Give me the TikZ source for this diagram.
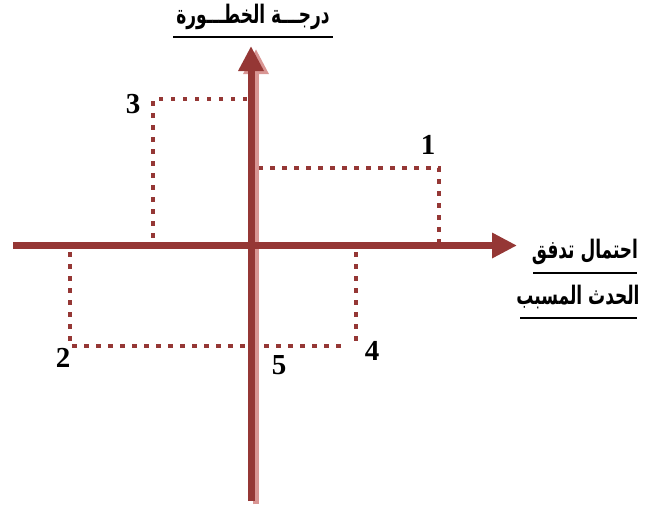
\documentclass[tikz,border=0pt]{standalone}
\usepackage{fontspec}
\setmainfont{Liberation Serif}
\newfontfamily\arabicfont[Script=Arabic]{DejaVu Sans}
\TeXXeTstate=1
\usetikzlibrary{arrows.meta}
\definecolor{axisred}{HTML}{953735}
\definecolor{shadowpink}{HTML}{D99694}
\tikzset{
  axisline/.style={line width=7pt, draw=axisred, -{Triangle[length=25pt,width=24pt]}},
  shadowline/.style={line width=6pt, draw=shadowpink, -{Triangle[length=25pt,width=24pt]}},
  dotline/.style={line width=4.5pt, draw=axisred, dash pattern=on 4.5pt off 7.5pt},
  numlabel/.style={font=\fontsize{29}{30}\selectfont\bfseries, inner sep=0pt},
  artext/.style={font=\arabicfont\bfseries\fontsize{17}{20}\selectfont, inner sep=0pt},
  uline/.style={line width=2.5pt, draw=black}
}
\begin{document}
\begin{tikzpicture}[x=1pt,y=-1pt]
\useasboundingbox (0,0) rectangle (648,506);
% coordinates
\coordinate (vb) at (251,501);
\coordinate (vt) at (251,46);
\coordinate (svb) at (256,504);
\coordinate (svt) at (256,49);
\coordinate (ha) at (13,245.5);
\coordinate (hb) at (517,245.5);
% dotted boxes
\coordinate (a1) at (258,168); \coordinate (b1) at (439,168); \coordinate (c1) at (439,242);
\coordinate (a3) at (247,99); \coordinate (b3) at (153,99); \coordinate (c3) at (153,242);
\coordinate (a2) at (70,252); \coordinate (b2) at (70,346); \coordinate (c2) at (343,346);
\coordinate (a4) at (356,252); \coordinate (b4) at (356,342);
\draw[dotline] (a1) -- (b1) -- (c1);
\draw[dotline] (a3) -- (b3) -- (c3);
\draw[dotline] (a2) -- (b2) -- (c2);
\draw[dotline] (a4) -- (b4);
% axes
\draw[shadowline] (svb) -- (svt);
\draw[axisline] (vb) -- (vt);
\draw[axisline] (ha) -- (hb);
% labels
\node[numlabel] (n1) at (428,145) {1};
\node[numlabel] (n3) at (133,104) {3};
\node[numlabel] (n2) at (63,358) {2};
\node[numlabel] (n4) at (372,351) {4};
\node[numlabel] (n5) at (279,365) {5};
% arabic texts
\node[artext] (t1) at (253,17) {\scalebox{1}[1.5]{\beginR درجـــة الخطـــورة\endR}};
\coordinate (u1a) at (173,37); \coordinate (u1b) at (333,37);
\draw[uline] (u1a) -- (u1b);
\node[artext] (t2) at (585,252) {\scalebox{1}[1.5]{\beginR احتمال تدفق\endR}};
\coordinate (u2a) at (533,273); \coordinate (u2b) at (637,273);
\draw[uline] (u2a) -- (u2b);
\node[artext] (t3) at (578,297) {\scalebox{1}[1.5]{\beginR الحدث المسبب\endR}};
\coordinate (u3a) at (520,318); \coordinate (u3b) at (637,318);
\draw[uline] (u3a) -- (u3b);
\end{tikzpicture}
\end{document}
